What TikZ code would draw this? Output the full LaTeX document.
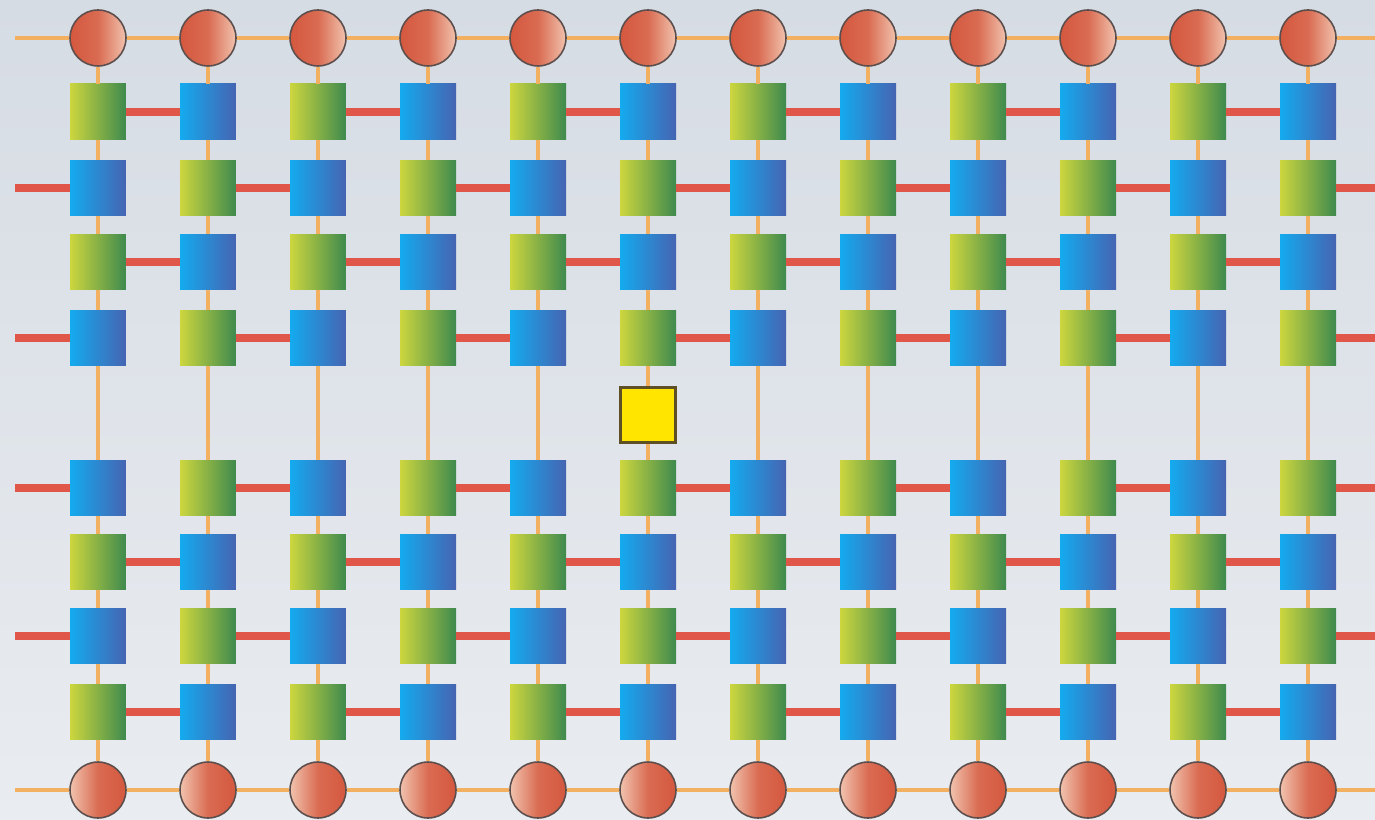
\documentclass[tikz,border=0pt]{standalone}
\usepackage{tikz}
\definecolor{BackTop}{HTML}{D6DCE4}
\definecolor{BackBottom}{HTML}{E9ECF0}
\definecolor{Wire}{HTML}{F4B061}
\definecolor{Link}{HTML}{E0574A}
\definecolor{LeafLight}{HTML}{CDD63E}
\definecolor{LeafDark}{HTML}{3E8A4E}
\definecolor{SkyLight}{HTML}{14AAEE}
\definecolor{SkyDark}{HTML}{4664B2}
\definecolor{PortDark}{HTML}{D4583E}
\definecolor{PortLight}{HTML}{F1C3AE}
\definecolor{PortRim}{HTML}{5C4E4C}
\definecolor{GateFill}{HTML}{FFE500}
\definecolor{GateRim}{HTML}{5E5024}
\tikzset{
  tile/.style={rectangle,minimum size=1.12cm,inner sep=0pt},
  tile1/.style={tile,left color=LeafLight,right color=LeafDark},
  tile0/.style={tile,left color=SkyLight,right color=SkyDark},
  port/.style={circle,minimum size=1.12cm,inner sep=0pt,draw=PortRim,
    line width=0.9pt},
  porttop/.style={port,left color=PortDark,right color=PortLight,
    middle color=PortDark!82!PortLight},
  portbot/.style={port,left color=PortLight,right color=PortDark,
    middle color=PortDark!82!PortLight},
  gate/.style={rectangle,minimum size=1.1cm,inner sep=0pt,fill=GateFill,
    draw=GateRim,line width=1.5pt},
  wire/.style={draw=Wire,line width=2.5pt},
  link/.style={draw=Link,line width=4pt}
}
\begin{document}
\begin{tikzpicture}[x=0.02cm,y=-0.02cm]
  \useasboundingbox (0,0) rectangle (1375,820);
  \path[top color=BackTop,bottom color=BackBottom] (0,0) rectangle (1375,820);

  \foreach \c in {1,...,12}{
    \node[porttop] (top-\c) at ({98+110*(\c-1)},38) {};
    \node[portbot] (bot-\c) at ({98+110*(\c-1)},790) {};
  }
  \foreach \r/\y/\s in {1/112/0,2/188/1,3/262/0,4/338/1,
                        5/488/1,6/562/0,7/636/1,8/712/0}{
    \foreach \c in {1,...,12}{
      \pgfmathtruncatemacro\k{mod(\c+\s,2)}
      \node[tile\k] (q-\r-\c) at ({98+110*(\c-1)},\y) {};
    }
  }
  \node[gate] (gate) at (648,415) {};

  % orange rails along top and bottom
  \path (top-1) ++(-83,0) coordinate (lft-top);
  \path (top-12) ++(67,0) coordinate (rgt-top);
  \path (bot-1) ++(-83,0) coordinate (lft-bot);
  \path (bot-12) ++(67,0) coordinate (rgt-bot);
  \draw[wire] (lft-top) -- (top-1);
  \draw[wire] (top-12) -- (rgt-top);
  \draw[wire] (lft-bot) -- (bot-1);
  \draw[wire] (bot-12) -- (rgt-bot);
  \foreach \c in {1,...,11}{
    \pgfmathtruncatemacro\n{\c+1}
    \draw[wire] (top-\c) -- (top-\n);
    \draw[wire] (bot-\c) -- (bot-\n);
  }

  % orange columns
  \foreach \c in {1,...,12}{
    \draw[wire] (top-\c) -- (q-1-\c);
    \foreach \r in {1,2,3,5,6,7}{
      \pgfmathtruncatemacro\n{\r+1}
      \draw[wire] (q-\r-\c) -- (q-\n-\c);
    }
    \ifnum\c=6
      \draw[wire] (q-4-\c) -- (gate);
      \draw[wire] (gate) -- (q-5-\c);
    \else
      \draw[wire] (q-4-\c) -- (q-5-\c);
    \fi
    \draw[wire] (q-8-\c) -- (bot-\c);
  }

  % red links
  \foreach \r in {1,3,6,8}{
    \foreach \c in {1,3,...,11}{
      \pgfmathtruncatemacro\n{\c+1}
      \draw[link] (q-\r-\c) -- (q-\r-\n);
    }
  }
  \foreach \r in {2,4,5,7}{
    \path (q-\r-1) ++(-83,0) coordinate (lft-\r);
    \path (q-\r-12) ++(67,0) coordinate (rgt-\r);
    \draw[link] (lft-\r) -- (q-\r-1);
    \draw[link] (q-\r-12) -- (rgt-\r);
    \foreach \c in {2,4,...,10}{
      \pgfmathtruncatemacro\n{\c+1}
      \draw[link] (q-\r-\c) -- (q-\r-\n);
    }
  }
\end{tikzpicture}
\end{document}
